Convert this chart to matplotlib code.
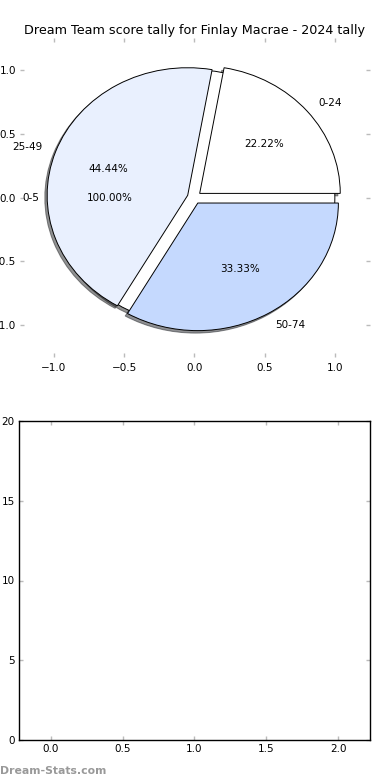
import matplotlib
matplotlib.use("Agg")
import matplotlib.pyplot as plt

title = "Dream Team score tally for Finlay Macrae - 2024 tally"
outer_labels = ["0-5"]
outer_values = [1]
inner_labels = ["0-24", "25-49", "50-74"]
inner_values = [2, 4, 3]
inner_colors = ["#FFFFFF", "#E9F0FE", "#C5D9FE"]
inner_explode = [0.05, 0.05, 0.05]

fig = plt.figure(figsize=(3.9, 7.8), dpi=100)
ax1 = fig.add_axes([20/390, 1-357/780, 350/390, 319/780])
ax2 = fig.add_axes([19/390, 1-740/780, 351/390, 319/780])

wp = dict(edgecolor="black", linewidth=0.7)
shadow = dict(ox=-0.012, oy=-0.014, shade=0.85)
ax1.pie(outer_values, labels=outer_labels, autopct="%.2f%%", startangle=0,
        shadow=shadow, colors=["#FFFFFF"], wedgeprops=wp, frame=True,
        textprops=dict(fontsize=7.5))
ax1.pie(inner_values, labels=inner_labels, autopct="%.2f%%", startangle=0,
        shadow=shadow, colors=inner_colors, explode=inner_explode, wedgeprops=wp,
        frame=True, textprops=dict(fontsize=7.5))
ax1.set_aspect("auto")
ax1.set_xlim(-1.24, 1.25)
ax1.set_ylim(-1.25, 1.25)
ax1.set_xticks([-1.0, -0.5, 0.0, 0.5, 1.0])
ax1.set_yticks([-1.0, -0.5, 0.0, 0.5, 1.0])
for s in ax1.spines.values():
    s.set_visible(False)
ax1.set_title(title, fontsize=9.2, pad=3)

ax2.set_xlim(-0.22, 2.22)
ax2.set_ylim(0, 20)
ax2.set_xticks([0.0, 0.5, 1.0, 1.5, 2.0])
ax2.set_yticks([0, 5, 10, 15, 20])
for s in ax2.spines.values():
    s.set_color("black")
    s.set_linewidth(1.0)

for ax in (ax1, ax2):
    ax.tick_params(axis="both", direction="in", length=3, width=1, color="#BBBBBB",
                   labelsize=7.5, pad=3, top=True, right=True)
ax1.tick_params(axis="x", pad=4)

fig.text(0.0, 1-771/780, "Dream-Stats.com", color="#999999", fontsize=7.8,
         fontweight="bold", ha="left", va="center")

fig.savefig("out.png", dpi=100)
